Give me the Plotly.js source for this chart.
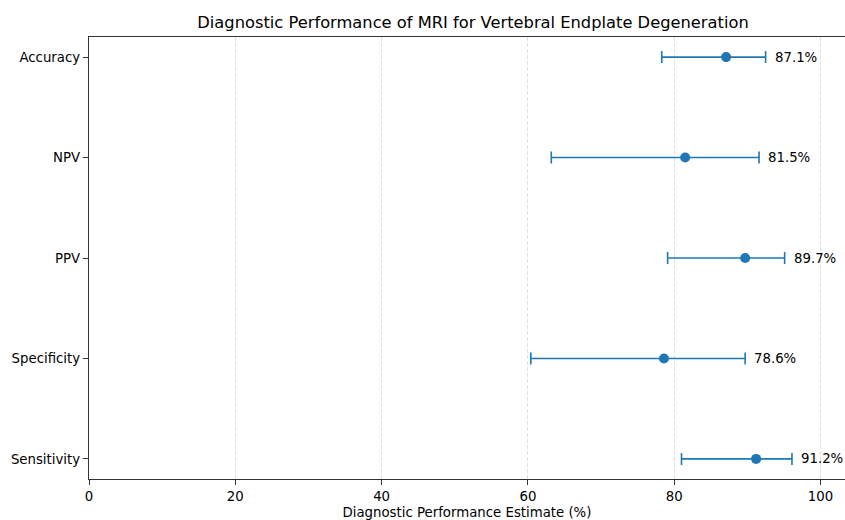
<!DOCTYPE html>
<html>
<head>
<meta charset="utf-8">
<script src="https://cdn.plot.ly/plotly-3.0.1.min.js"></script>
<style>html,body{margin:0;padding:0;background:#fff;}#chart{width:845px;height:520px;}</style>
</head>
<body>
<div id="chart"></div>
<script>
const categories = ["Sensitivity", "Specificity", "PPV", "NPV", "Accuracy"];
const estimates = [91.2, 78.6, 89.7, 81.5, 87.1];
const lowerCI = [81.0, 60.4, 79.1, 63.2, 78.3];
const upperCI = [96.1, 89.7, 95.1, 91.6, 92.5];
const xTicks = [0, 20, 40, 60, 80, 100];

const errPlus = estimates.map((v, i) => upperCI[i] - v);
const errMinus = estimates.map((v, i) => v - lowerCI[i]);

const trace = {
  type: "scatter",
  mode: "markers",
  x: estimates,
  y: categories,
  marker: {color: "#1f77b4", size: 10},
  error_x: {
    type: "data", symmetric: false,
    array: errPlus, arrayminus: errMinus,
    color: "#1f77b4", thickness: 1.6, width: 6
  },
  hoverinfo: "skip"
};

const annotations = estimates.map((v, i) => ({
  x: upperCI[i] + 1, y: categories[i], xref: "x", yref: "y",
  text: v.toFixed(1) + "%", showarrow: false, xanchor: "left", yanchor: "middle",
  font: {family: "DejaVu Sans", size: 13.3, color: "#000"}
}));

const layout = {
  width: 845, height: 520,
  margin: {l: 89, r: 0, t: 37, b: 41},
  paper_bgcolor: "#fff", plot_bgcolor: "#fff",
  font: {family: "DejaVu Sans", size: 13, color: "#000"},
  title: {
    text: "Diagnostic Performance of MRI for Vertebral Endplate Degeneration",
    font: {family: "DejaVu Sans", size: 16.3, color: "#000"},
    xref: "container", x: 473 / 845, xanchor: "center",
    yref: "container", y: 1 - 22 / 520, yanchor: "middle"
  },
  xaxis: {
    range: [0, 103.35], tickvals: xTicks, ticktext: xTicks.map(String),
    ticks: "outside", ticklen: 5, tickwidth: 1, tickcolor: "#333",
    showline: true, linecolor: "#333", linewidth: 1.2, mirror: true,
    showgrid: true, gridcolor: "#e0e0e0", griddash: "4px,2px", gridwidth: 1,
    zeroline: false,
    tickfont: {family: "DejaVu Sans", size: 13.3, color: "#000"},
    title: {text: "Diagnostic Performance Estimate (%)", font: {family: "DejaVu Sans", size: 13.3, color: "#000"}, standoff: 6},
    automargin: false
  },
  yaxis: {
    type: "category", categoryorder: "array", categoryarray: categories,
    range: [-0.2, 4.2],
    ticks: "outside", ticklen: 5, tickwidth: 1, tickcolor: "#333",
    showline: true, linecolor: "#333", linewidth: 1.2,
    showgrid: false, zeroline: false,
    tickfont: {family: "DejaVu Sans", size: 13.3, color: "#000"},
    automargin: false
  },
  annotations: annotations,
  showlegend: false
};

Plotly.newPlot("chart", [trace], layout, {displayModeBar: false, staticPlot: true});
</script>
</body>
</html>
